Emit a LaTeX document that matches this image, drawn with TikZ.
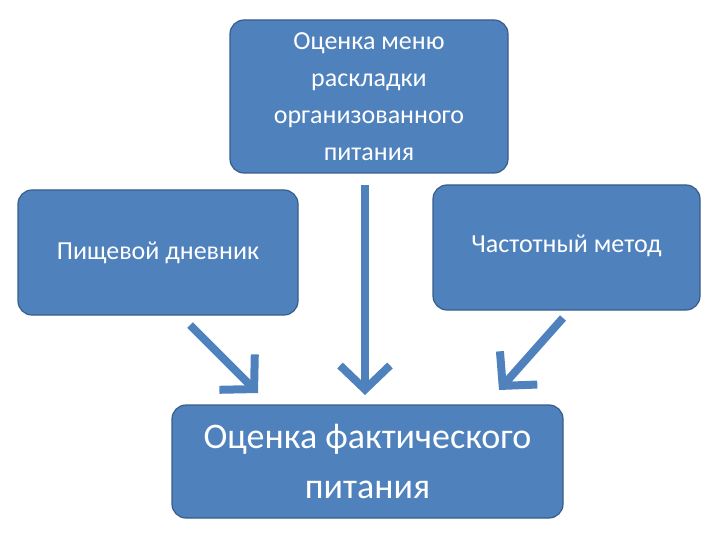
\documentclass[tikz,border=0pt]{standalone}
\usepackage{fontspec}
\setmainfont{Carlito}
\usetikzlibrary{arrows.meta}
\definecolor{boxfill}{HTML}{4F81BD}
\definecolor{boxline}{HTML}{385D8A}
\tikzset{
  box/.style={draw=boxline, line width=1.2pt, fill=boxfill, rounded corners=14pt, text=white, align=center, inner sep=0pt},
  bigarrow/.style={draw=boxfill, line width=8pt, -{Straight Barb[length=24pt,width=50pt,line width=8pt]}}
}
\begin{document}
\begin{tikzpicture}[x=1pt,y=-1pt]
\useasboundingbox (0,0) rectangle (720,540);
\node[box, minimum width=278pt, minimum height=153pt, font=\fontsize{26}{37}\selectfont] (top) at (369,96.5) {Оценка меню\\раскладки\\организованного\\питания};
\node[box, minimum width=280pt, minimum height=125pt, font=\fontsize{26}{32}\selectfont] (left) at (158,252.5) {Пищевой дневник};
\node[box, minimum width=267pt, minimum height=125pt, font=\fontsize{26}{32}\selectfont, text depth=8pt] (right) at (566.5,247.5) {Частотный метод};
\node[box, minimum width=391pt, minimum height=113pt, font=\fontsize{36}{50}\selectfont] (bottom) at (367.5,461.5) {Оценка фактического\\питания};
\coordinate (l1) at (190,325); \coordinate (l2) at (258,393);
\coordinate (m1) at (365,185); \coordinate (m2) at (365,395);
\coordinate (r1) at (563,318); \coordinate (r2) at (499,390);
\draw[bigarrow] (l1) -- (l2);
\draw[bigarrow] (m1) -- (m2);
\draw[bigarrow] (r1) -- (r2);
\end{tikzpicture}
\end{document}
